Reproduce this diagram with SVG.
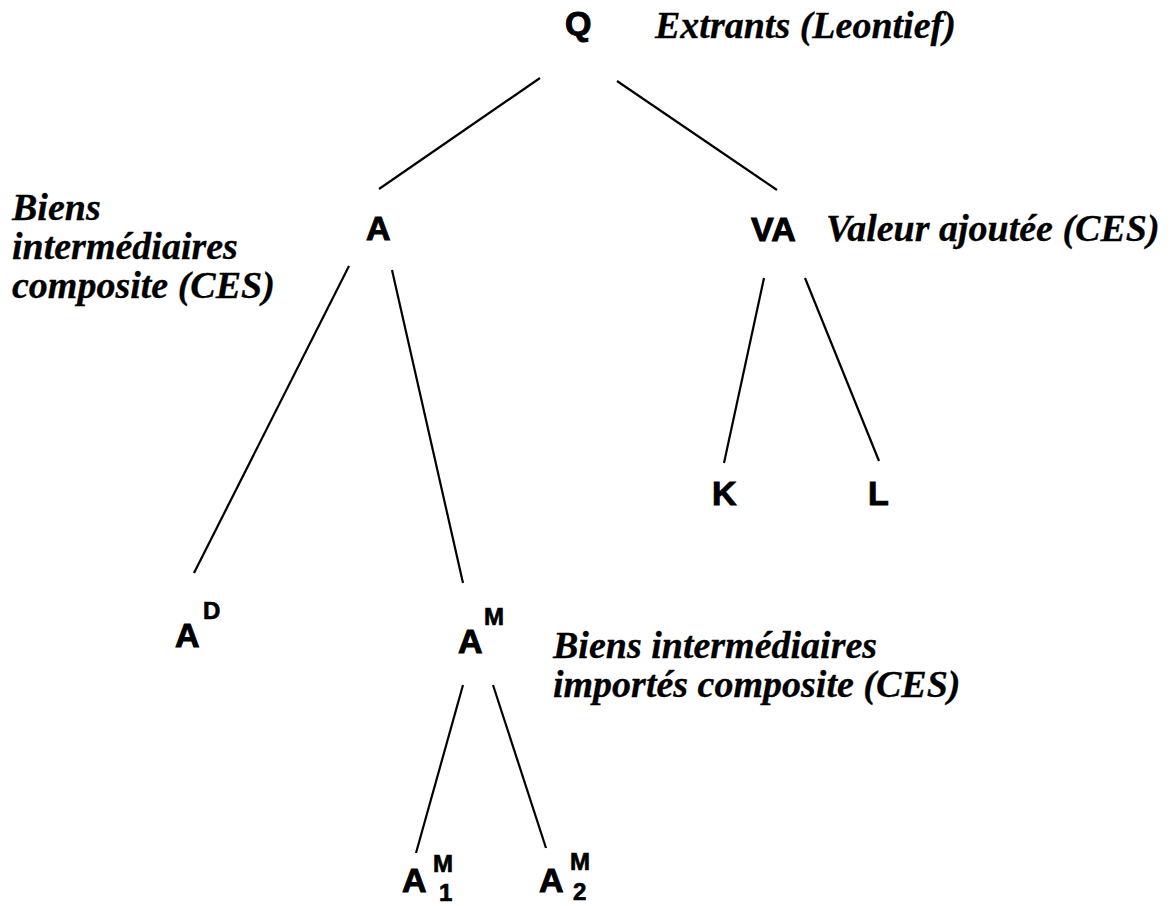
<svg xmlns="http://www.w3.org/2000/svg" width="1171" height="906" viewBox="0 0 1171 906">
<style>
.n{font-family:"Liberation Sans",Arial,sans-serif;font-weight:bold;font-size:34px;fill:#000;stroke:#000;stroke-width:1}
.s{font-family:"Liberation Sans",Arial,sans-serif;font-weight:bold;font-size:24px;fill:#000;stroke:#000;stroke-width:0.7}
.l{font-family:"Liberation Serif","Times New Roman",serif;font-weight:bold;font-style:italic;font-size:38px;fill:#000;stroke:#000;stroke-width:0.3}
.c line{stroke:#000;stroke-width:2.2;fill:none}
</style>
<rect width="1171" height="906" fill="#fff"/>
<g id="connectors" class="c">
<line x1="540" y1="78" x2="379" y2="189"/>
<line x1="617" y1="81" x2="777" y2="190"/>
<line x1="349" y1="266" x2="194" y2="573"/>
<line x1="392" y1="270" x2="463" y2="583"/>
<line x1="764" y1="278" x2="724" y2="463"/>
<line x1="805" y1="278" x2="879" y2="461"/>
<line x1="463" y1="685" x2="416" y2="853"/>
<line x1="493" y1="685" x2="546" y2="848"/>
</g>
<g id="node-Q"><text class="n" x="565" y="35">Q</text></g>
<g id="label-extrants"><text class="l" x="655" y="38">Extrants (Leontief)</text></g>
<g id="node-A"><text class="n" x="366" y="240">A</text></g>
<g id="label-biens"><text class="l"><tspan x="12" y="220">Biens</tspan><tspan x="12" y="259">intermédiaires</tspan><tspan x="12" y="298">composite (CES)</tspan></text></g>
<g id="node-VA"><text class="n" x="751" y="241">VA</text></g>
<g id="label-va"><text class="l" x="826" y="241">Valeur ajoutée (CES)</text></g>
<g id="node-K"><text class="n" x="712" y="505">K</text></g>
<g id="node-L"><text class="n" x="868" y="505">L</text></g>
<g id="node-AD"><text class="n" x="175" y="647">A</text><text class="s" x="203" y="619">D</text></g>
<g id="node-AM"><text class="n" x="458" y="653">A</text><text class="s" x="484" y="625">M</text></g>
<g id="label-am"><text class="l"><tspan x="553" y="658">Biens intermédiaires</tspan><tspan x="553" y="697">importés composite (CES)</tspan></text></g>
<g id="node-AM1"><text class="n" x="402" y="892">A</text><text class="s" x="433" y="872">M</text><text class="s" x="439" y="901">1</text></g>
<g id="node-AM2"><text class="n" x="539" y="892">A</text><text class="s" x="570" y="870">M</text><text class="s" x="573" y="900">2</text></g>
</svg>
